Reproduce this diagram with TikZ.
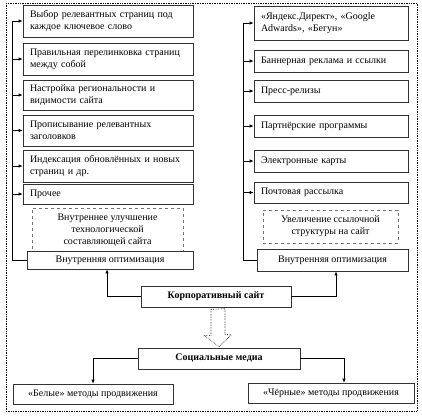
\documentclass[tikz,border=0pt]{standalone}
\usepackage{fontspec}
\setmainfont{Liberation Serif}
\usetikzlibrary{arrows.meta}
\begin{document}
\begin{tikzpicture}[
x=1pt, y=-1pt,
font=\rmfamily\fontsize{10pt}{12pt}\selectfont,
>={Latex[length=4pt,width=3.2pt]},
leftbox/.style={draw=black!80, line width=0.6pt, fill=white, align=left, inner xsep=7pt, inner ysep=0pt},
dashbox/.style={draw=black!55, dashed, line width=0.7pt, align=center, inner sep=0pt},
centerbox/.style={draw=black!80, line width=0.6pt, fill=white, align=center, inner sep=0pt},
]
\useasboundingbox (0,0) rectangle (422,416);
\draw[densely dotted, line width=0.7pt] (6,3) rectangle (417,411);

%Nodes
\node[leftbox, text width=156pt, minimum height=32pt] (sel) at (108,21) {Выбор релевантных страниц под\\каждое ключевое слово};
\node[leftbox, text width=156pt, minimum height=32pt] (links) at (108,59) {Правильная перелинковка страниц\\между собой};
\node[leftbox, text width=156pt, minimum height=30pt] (region) at (108,95) {Настройка региональности и\\видимости сайта};
\node[leftbox, text width=156pt, minimum height=31pt] (titles) at (108,130.5) {Прописывание релевантных\\заголовков};
\node[leftbox, text width=156pt, minimum height=32pt] (index) at (108,166) {Индексация обновлённых и новых\\страниц и др.};
\node[leftbox, text width=156pt, minimum height=20pt] (other) at (108,194) {Прочее};

\node[leftbox, text width=140pt, minimum height=34pt] (direct) at (331,23) {«Яндекс.Директ», «Google\\Adwards», «Бегун»};
\node[leftbox, text width=140pt, minimum height=22pt] (banner) at (331,61) {Баннерная реклама и ссылки};
\node[leftbox, text width=140pt, minimum height=22pt] (press) at (331,91) {Пресс-релизы};
\node[leftbox, text width=140pt, minimum height=22pt] (partner) at (331,126) {Партнёрские программы};
\node[leftbox, text width=140pt, minimum height=22pt] (maps) at (331,161) {Электронные карты};
\node[leftbox, text width=140pt, minimum height=21pt] (mail) at (331,192.5) {Почтовая рассылка};

\node[dashbox, minimum width=151pt, minimum height=44pt] (tech) at (107.5,230) {Внутреннее улучшение\\технологической\\составляющей сайта};
\node[dashbox, minimum width=135pt, minimum height=33pt] (linkstruct) at (330.5,226.5) {Увеличение ссылочной\\структуры на сайт};

\node[centerbox, minimum width=166pt, minimum height=18pt] (intl) at (110,260) {Внутренняя оптимизация};
\node[centerbox, minimum width=151pt, minimum height=22pt] (intr) at (332.5,260) {Внутренняя оптимизация};
\node[centerbox, minimum width=150pt, minimum height=21pt, font=\bfseries] (corp) at (216,296.5) {Корпоративный сайт};
\node[centerbox, minimum width=162pt, minimum height=21pt, font=\bfseries] (social) at (219,358.5) {Социальные медиа};
\node[centerbox, minimum width=160pt, minimum height=20pt] (white) at (93,394) {«Белые» методы продвижения};
\node[centerbox, minimum width=166pt, minimum height=20pt] (black) at (331,393) {«Чёрные» методы продвижения};

\coordinate (ltrunk) at (12,0);
\coordinate (rtrunk) at (243,0);

%Lines
\draw[line width=0.6pt] (intl.west) -| (ltrunk |- sel.west);
\draw[->, line width=0.6pt] (ltrunk |- sel.west) -- (sel.west);
\draw[->, line width=0.6pt] (ltrunk |- links.west) -- (links.west);
\draw[->, line width=0.6pt] (ltrunk |- region.west) -- (region.west);
\draw[->, line width=0.6pt] (ltrunk |- titles.west) -- (titles.west);
\draw[->, line width=0.6pt] (ltrunk |- index.west) -- (index.west);
\draw[->, line width=0.6pt] (ltrunk |- other.west) -- (other.west);

\draw[line width=0.6pt] (intr.west) -| (rtrunk |- direct.west);
\draw[->, line width=0.6pt] (rtrunk |- direct.west) -- (direct.west);
\draw[->, line width=0.6pt] (rtrunk |- banner.west) -- (banner.west);
\draw[->, line width=0.6pt] (rtrunk |- press.west) -- (press.west);
\draw[->, line width=0.6pt] (rtrunk |- partner.west) -- (partner.west);
\draw[->, line width=0.6pt] (rtrunk |- maps.west) -- (maps.west);
\draw[->, line width=0.6pt] (rtrunk |- mail.west) -- (mail.west);

\draw[->, line width=0.6pt] (corp.west) -| ([xshift=-3pt]intl.south);
\draw[->, line width=0.6pt] (corp.east) -| ([xshift=3.5pt]intr.south);
\draw[->, line width=0.6pt] (social.west) -| (white.north);
\draw[->, line width=0.6pt] (social.east) -| ([xshift=13pt]black.north);

\draw[densely dotted, line width=0.6pt, fill=white] ([xshift=-5pt,yshift=-2pt]corp.south) -- ++(0,26) -- ++(-6.5,0) -- ([yshift=1pt]social.north) -- ++(12.5,-12) -- ++(-6.5,0) -- ++(0,-26) -- cycle;

\end{tikzpicture}
\end{document}
